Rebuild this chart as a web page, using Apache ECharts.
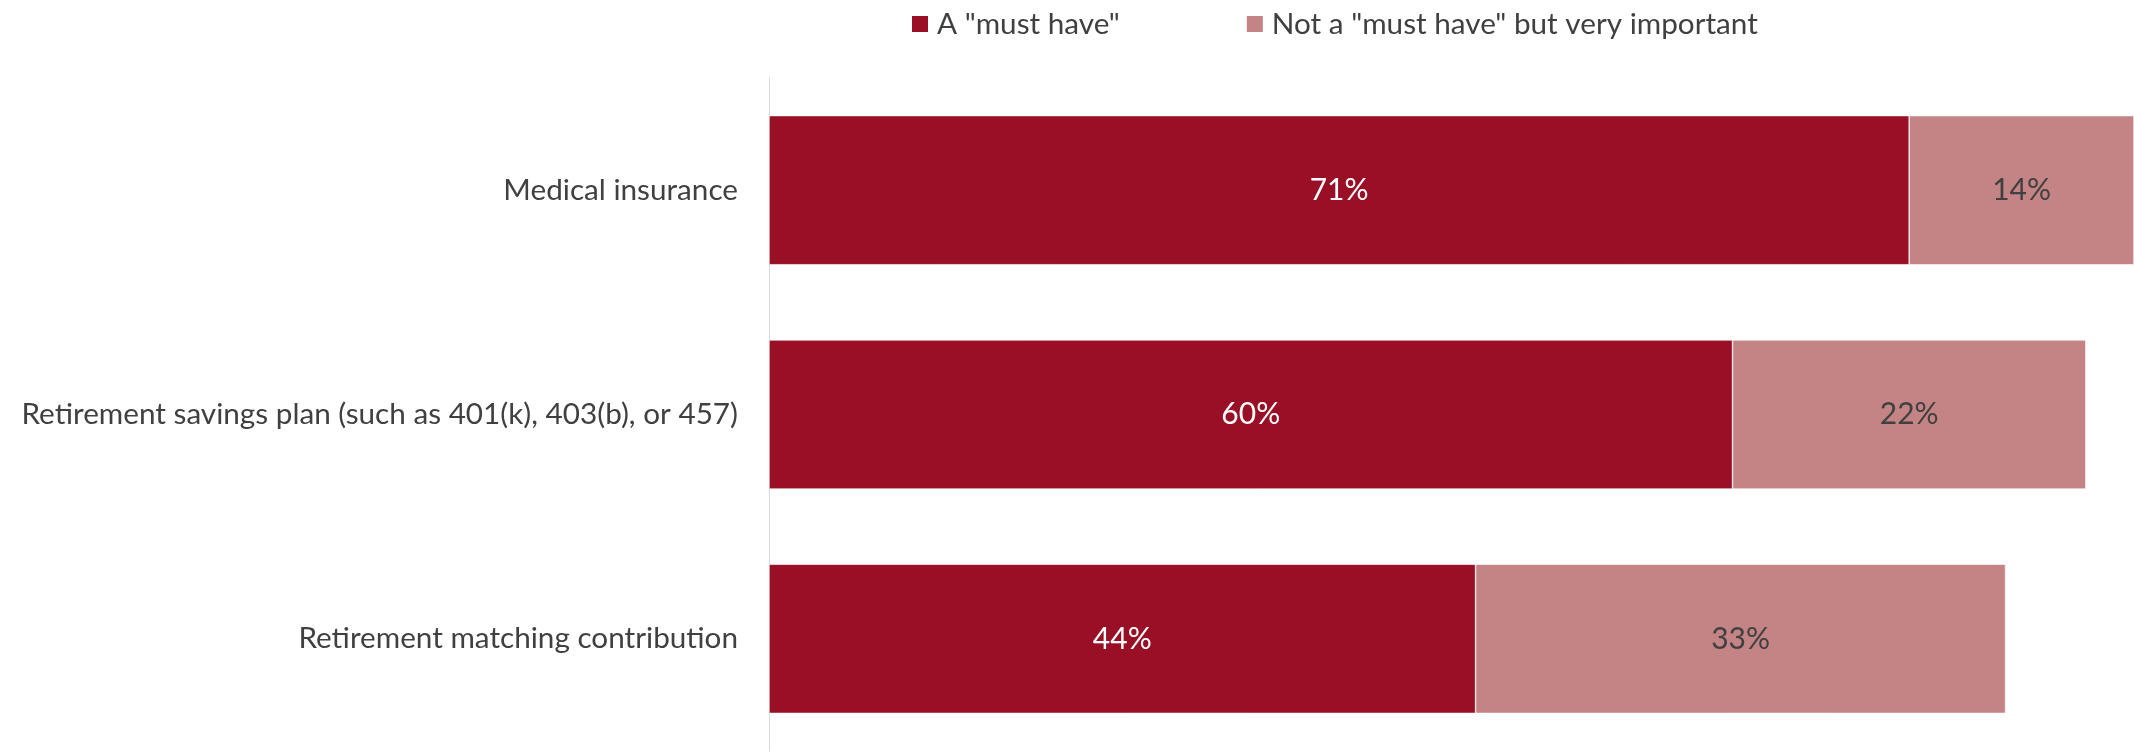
<!DOCTYPE html>
<html>
<head>
<meta charset="utf-8">
<script src="https://cdn.jsdelivr.net/npm/echarts@6/dist/echarts.min.js"></script>
<style>
  html, body { margin: 0; padding: 0; background: #ffffff; }
  #chart { width: 2134px; height: 752px; }
</style>
</head>
<body>
<div id="chart"></div>
<script>
// Benefit categories, top to bottom
const categories = [
  'Medical insurance',
  'Retirement savings plan (such as 401(k), 403(b), or 457)',
  'Retirement matching contribution'
];
const seriesNames = ['A "must have"', 'Not a "must have" but very important'];
const mustHave = [71, 60, 44];
const veryImportant = [14, 22, 33];

const FONT = 'Lato';
const FONT_SIZE = 30;
const TEXT = '#404040';

const chart = echarts.init(document.getElementById('chart'), null, { renderer: 'canvas' });

chart.setOption({
  animation: false,
  backgroundColor: '#ffffff',
  textStyle: { fontFamily: FONT },
  legend: {
    top: 4,
    left: 905,
    itemWidth: 18,
    itemHeight: 18,
    itemGap: 125,
    icon: 'rect',
    textStyle: { fontFamily: FONT, fontSize: 29.7, color: TEXT, padding: [0, 0, 0, 3] },
    data: seriesNames
  },
  grid: { left: 769, right: 0, top: 78, bottom: 1, containLabel: false },
  xAxis: {
    type: 'value',
    min: 0,
    max: 85,
    show: false
  },
  yAxis: {
    type: 'category',
    inverse: true,
    data: categories,
    axisLine: { show: true, lineStyle: { color: '#d9d9d9', width: 1 } },
    axisTick: { show: false },
    axisLabel: { margin: 31, fontFamily: FONT, fontSize: 29.7, color: TEXT }
  },
  series: [
    {
      name: seriesNames[0],
      type: 'bar',
      stack: 'total',
      barCategoryGap: '33.5%',
      data: mustHave,
      itemStyle: { color: '#990F26', borderColor: '#ffffff', borderWidth: 0.6 },
      label: {
        show: true, position: 'inside', formatter: '{c}%',
        fontFamily: FONT, fontSize: FONT_SIZE, color: '#ffffff'
      }
    },
    {
      name: seriesNames[1],
      type: 'bar',
      stack: 'total',
      barCategoryGap: '33.5%',
      data: veryImportant,
      itemStyle: { color: '#C48385', borderColor: '#ffffff', borderWidth: 0.6 },
      label: {
        show: true, position: 'inside', formatter: '{c}%',
        fontFamily: FONT, fontSize: FONT_SIZE, color: TEXT
      }
    }
  ]
});
</script>
</body>
</html>
